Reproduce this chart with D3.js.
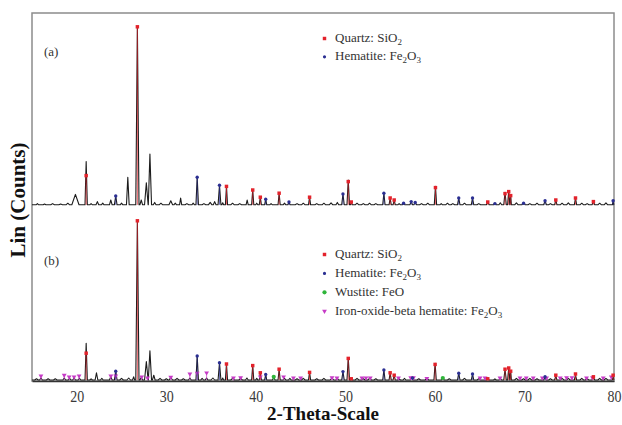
<!DOCTYPE html>
<html>
<head>
<meta charset="utf-8">
<script src="https://cdn.jsdelivr.net/npm/d3@7/dist/d3.min.js"></script>
<style>
  body { margin: 0; background: #fff; }
  text { font-family: "Liberation Serif", "Times New Roman", serif; }
</style>
</head>
<body>
<div id="canvas"></div>
<script>
// peaks: [2-theta, counts above baseline, half width]
const peaksA = [
  [15.6, 3, 0.15], [16.4, 2, 0.15], [17.3, 3, 0.2], [18.2, 2, 0.2], [19.0, 4, 0.2],
  [19.85, 26, 0.4], [21.05, 108, 0.13], [21.6, 3, 0.15], [22.3, 8, 0.15], [22.9, 4, 0.15],
  [23.8, 12, 0.15], [24.35, 22, 0.15], [25.0, 4, 0.15], [25.7, 69, 0.15], [26.77, 445, 0.18],
  [27.2, 12, 0.15], [27.77, 55, 0.2], [28.17, 127, 0.18], [28.7, 6, 0.15], [29.4, 4, 0.2],
  [30.5, 10, 0.2], [31.0, 4, 0.15], [31.6, 17, 0.12], [32.3, 3, 0.2], [33.0, 4, 0.15],
  [33.45, 69, 0.14], [34.2, 3, 0.2], [34.9, 6, 0.2], [35.4, 8, 0.15], [35.94, 49, 0.16],
  [36.3, 5, 0.1], [36.72, 46, 0.12], [37.4, 4, 0.2], [38.2, 3, 0.2], [39.03, 12, 0.12],
  [39.65, 37, 0.12], [40.1, 4, 0.12], [40.5, 19, 0.12], [41.1, 14, 0.12], [41.7, 3, 0.15],
  [42.6, 29, 0.12], [43.2, 4, 0.15], [43.7, 7, 0.12], [44.6, 3, 0.2], [45.3, 4, 0.2],
  [46.0, 19, 0.12], [46.8, 3, 0.2], [47.6, 4, 0.2], [48.4, 5, 0.2], [49.1, 6, 0.15],
  [49.73, 27, 0.14], [50.32, 62, 0.14], [50.66, 7, 0.1], [51.3, 4, 0.2], [52.0, 3, 0.2],
  [52.7, 4, 0.2], [53.4, 3, 0.2], [54.3, 29, 0.13], [55.0, 17, 0.12], [55.45, 12, 0.12],
  [56.0, 3, 0.15], [56.5, 4, 0.15], [57.35, 8, 0.15], [57.8, 6, 0.15], [58.5, 3, 0.2],
  [59.2, 4, 0.2], [60.06, 46, 0.13], [60.7, 3, 0.15], [61.4, 4, 0.2], [62.0, 3, 0.2],
  [62.66, 17, 0.14], [63.3, 4, 0.2], [64.2, 17, 0.14], [64.9, 3, 0.2], [65.9, 7, 0.15],
  [66.7, 4, 0.15], [67.3, 5, 0.15], [67.83, 31, 0.14], [68.24, 35, 0.12], [68.46, 23, 0.08],
  [69.1, 5, 0.2], [69.9, 4, 0.2], [70.6, 3, 0.2], [71.4, 4, 0.2], [72.3, 10, 0.15],
  [72.9, 3, 0.2], [73.5, 12, 0.13], [74.2, 4, 0.2], [74.9, 5, 0.2], [75.7, 17, 0.13],
  [76.4, 4, 0.2], [77.0, 3, 0.2], [77.7, 8, 0.15], [78.4, 4, 0.2], [79.1, 5, 0.2], [79.9, 10, 0.08]
];

const peaksB = [
  [15.5, 3, 0.2], [16.0, 5, 0.15], [16.8, 3, 0.2], [17.6, 3, 0.2], [18.6, 5, 0.15],
  [19.2, 4, 0.15], [19.7, 5, 0.15], [20.3, 4, 0.15], [21.05, 92, 0.13], [21.6, 3, 0.15],
  [22.2, 18, 0.15], [22.8, 4, 0.15], [23.8, 8, 0.15], [24.35, 22, 0.15], [25.0, 4, 0.2],
  [25.8, 5, 0.2], [26.35, 8, 0.12], [26.77, 398, 0.18], [27.2, 6, 0.15], [27.77, 46, 0.2],
  [28.17, 73, 0.18], [28.6, 12, 0.15], [29.3, 4, 0.2], [30.0, 3, 0.2], [30.5, 6, 0.2],
  [31.2, 4, 0.2], [31.9, 3, 0.2], [32.63, 5, 0.15], [33.45, 60, 0.14], [34.0, 4, 0.15],
  [34.5, 5, 0.15], [35.2, 5, 0.2], [35.94, 43, 0.16], [36.3, 5, 0.1], [36.72, 40, 0.12],
  [37.4, 4, 0.2], [38.3, 4, 0.2], [39.0, 5, 0.15], [39.65, 36, 0.12], [40.1, 4, 0.12],
  [40.5, 18, 0.12], [41.1, 14, 0.12], [42.0, 6, 0.15], [42.6, 27, 0.12], [43.2, 4, 0.15],
  [43.8, 4, 0.15], [44.6, 3, 0.2], [45.3, 4, 0.2], [46.0, 19, 0.12], [46.8, 3, 0.2],
  [47.6, 4, 0.2], [48.5, 5, 0.2], [49.1, 4, 0.15], [49.73, 21, 0.14], [50.32, 56, 0.14],
  [50.66, 5, 0.1], [51.3, 4, 0.2], [52.0, 3, 0.2], [52.7, 4, 0.2], [53.4, 3, 0.2],
  [54.3, 25, 0.13], [55.0, 18, 0.12], [55.45, 12, 0.12], [56.0, 3, 0.15], [56.6, 4, 0.15],
  [57.4, 6, 0.15], [58.2, 3, 0.2], [59.1, 4, 0.2], [60.02, 42, 0.13], [60.88, 6, 0.15],
  [61.6, 3, 0.2], [62.66, 17, 0.14], [63.3, 4, 0.2], [64.2, 15, 0.14], [64.9, 3, 0.2],
  [65.9, 5, 0.15], [66.7, 3, 0.15], [67.3, 4, 0.15], [67.83, 27, 0.14], [68.24, 30, 0.12],
  [68.46, 22, 0.08], [69.1, 4, 0.2], [69.9, 3, 0.2], [70.6, 4, 0.2], [71.4, 3, 0.2],
  [72.3, 7, 0.15], [72.9, 3, 0.2], [73.5, 10, 0.13], [74.2, 4, 0.2], [74.9, 4, 0.2],
  [75.7, 12, 0.13], [76.4, 4, 0.2], [77.0, 3, 0.2], [77.7, 7, 0.15], [78.4, 4, 0.2],
  [79.1, 4, 0.2], [79.9, 9, 0.08]
];

// phase markers: [2-theta, counts above baseline]
const quartzA = [[21.05, 73], [26.77, 445], [36.72, 46], [39.65, 37], [40.5, 19], [42.6, 29],
  [46.0, 19], [50.32, 58], [50.66, 7], [55.0, 17], [55.45, 12], [60.06, 43], [65.9, 7],
  [67.83, 28], [68.24, 33], [68.46, 23], [73.5, 12], [75.7, 17], [77.7, 8]];
const hematiteA = [[24.35, 22], [33.45, 69], [35.94, 49], [41.1, 14], [43.7, 7], [49.73, 27],
  [54.3, 29], [56.5, 4], [57.35, 8], [57.8, 6], [62.66, 17], [64.2, 17], [66.7, 3], [69.9, 4],
  [72.3, 10], [79.9, 10]];

const quartzB = [[21.05, 67], [26.77, 398], [36.72, 40], [39.65, 36], [40.5, 18], [42.6, 27],
  [46.0, 19], [50.32, 54], [50.66, 3], [55.0, 18], [55.45, 12], [60.02, 39], [65.9, 3],
  [67.83, 27], [68.24, 30], [68.46, 22], [73.5, 12], [75.7, 15], [77.7, 8], [79.9, 12]];
const hematiteB = [[24.35, 22], [33.45, 60], [35.94, 43], [41.1, 14], [49.73, 21], [54.3, 25],
  [57.5, 5], [62.66, 17], [64.2, 15], [72.3, 8]];
const wustiteB = [[42.0, 8], [60.88, 5]];
const betaB = [[16.0, 10], [18.6, 12], [19.15, 8], [19.7, 8], [20.26, 10], [23.8, 10], [24.35, 10],
  [27.25, 8], [27.9, 5], [30.5, 7], [32.63, 15], [33.45, 17], [34.5, 18], [37.5, 5], [38.3, 6],
  [40.5, 8], [43.1, 8], [44.2, 5], [45.0, 5], [48.5, 6], [49.06, 5], [51.85, 5], [52.3, 5],
  [52.78, 5], [55.93, 5], [57.3, 6], [57.6, 6], [59.1, 4], [65.04, 5], [65.6, 5], [67.27, 5],
  [69.5, 5], [70.2, 5], [70.98, 5], [72.0, 5], [72.47, 5], [74.0, 5], [74.7, 6], [75.3, 6],
  [76.93, 5], [77.6, 6], [78.8, 5], [79.7, 8]];

const xTicks = [20, 30, 40, 50, 60, 70, 80];
const offsetA = 438;
const offsetB = 0;

const width = 622;
const height = 425;
const margin = {top: 13, left: 32, bottom: 44, right: 8};

const colors = {quartz: "#e3222b", hematite: "#2b2f92", wustite: "#2fb53a", beta: "#c63bc6"};

const svg = d3.select("#canvas").append("svg")
  .attr("width", width)
  .attr("height", height);

const x = d3.scaleLinear().domain([15, 80]).range([margin.left, width - margin.right]);
const y = d3.scaleLinear().domain([0, 920]).range([380, 12]);

// frame
svg.append("rect")
  .attr("x", margin.left)
  .attr("y", margin.top)
  .attr("width", width - margin.right - margin.left)
  .attr("height", 381 - margin.top)
  .attr("fill", "none")
  .attr("stroke", "#8c8c8c")
  .attr("stroke-width", 1.5);

function curvePoints(peaks) {
  const pts = [[15, 0]];
  peaks.forEach(p => {
    pts.push([p[0] - p[2], 0], [p[0], p[1]], [p[0] + p[2], 0]);
  });
  pts.push([80, 0]);
  return pts;
}

function drawPattern(peaks, offset, phases) {
  const g = svg.append("g");
  const line = d3.line().x(d => x(d[0])).y(d => y(d[1] + offset));
  g.append("path")
    .datum(curvePoints(peaks))
    .attr("d", line)
    .attr("fill", "none")
    .attr("stroke", "#1c1c1c")
    .attr("stroke-width", 1.1)
    .attr("stroke-linejoin", "round");

  phases.forEach(ph => {
    g.selectAll(null).data(ph.data).enter().append("line")
      .attr("x1", d => x(d[0])).attr("x2", d => x(d[0]))
      .attr("y1", y(offset)).attr("y2", d => y(d[1] + offset))
      .attr("stroke", ph.color)
      .attr("stroke-width", 0.8)
      .attr("opacity", 0.85);
    g.selectAll(null).data(ph.data).enter().append("path")
      .attr("transform", d => `translate(${x(d[0])},${y(d[1] + offset)})` + (ph.shape === "tri" ? " rotate(180)" : ""))
      .attr("d", d3.symbol().type(ph.shape === "sq" ? d3.symbolSquare : ph.shape === "tri" ? d3.symbolTriangle : d3.symbolCircle).size(ph.size))
      .attr("fill", ph.color);
  });
}

drawPattern(peaksA, offsetA, [
  {data: quartzA, color: colors.quartz, shape: "sq", size: 12},
  {data: hematiteA, color: colors.hematite, shape: "dot", size: 9}
]);
drawPattern(peaksB, offsetB, [
  {data: betaB, color: colors.beta, shape: "tri", size: 10},
  {data: quartzB, color: colors.quartz, shape: "sq", size: 12},
  {data: hematiteB, color: colors.hematite, shape: "dot", size: 9},
  {data: wustiteB, color: colors.wustite, shape: "dot", size: 14}
]);

// x axis
const xAxis = svg.append("g")
  .attr("transform", "translate(0,381)")
  .call(d3.axisBottom(x).tickValues(xTicks).tickSize(0).tickFormat(d3.format("d")));
xAxis.select(".domain").attr("stroke", "#333").attr("stroke-width", 1.3);
xAxis.selectAll("text")
  .attr("y", 0).attr("dy", null)
  .attr("transform", "translate(0,20.5) scale(1,1.2)")
  .attr("font-family", "Liberation Serif")
  .attr("font-size", 14)
  .attr("fill", "#3a3a3a");

// axis titles
svg.append("text")
  .attr("x", 323).attr("y", 420)
  .attr("text-anchor", "middle")
  .attr("font-size", 19).attr("font-weight", "bold")
  .attr("fill", "#111")
  .text("2-Theta-Scale");

svg.append("text")
  .attr("transform", "translate(25,200) rotate(-90)")
  .attr("text-anchor", "middle")
  .attr("font-size", 21).attr("font-weight", "bold")
  .attr("fill", "#111")
  .text("Lin (Counts)");

// panel labels
svg.append("text").attr("x", 44).attr("y", 56).attr("font-size", 13).attr("fill", "#333").text("(a)");
svg.append("text").attr("x", 44).attr("y", 265).attr("font-size", 13).attr("fill", "#333").text("(b)");

// legends
function legendText(sel, parts) {
  parts.forEach(p => {
    const t = sel.append("tspan").text(p[0]);
    if (p[1] === "sub") t.attr("font-size", 9).attr("dy", 3);
    if (p[1] === "up") t.attr("dy", -3);
  });
}

const legendA = [
  {color: colors.quartz, shape: "sq", parts: [["Quartz: SiO"], ["2", "sub"]]},
  {color: colors.hematite, shape: "dot", parts: [["Hematite: Fe"], ["2", "sub"], ["O", "up"], ["3", "sub"]]}
];
const legendB = [
  {color: colors.quartz, shape: "sq", parts: [["Quartz: SiO"], ["2", "sub"]]},
  {color: colors.hematite, shape: "dot", parts: [["Hematite: Fe"], ["2", "sub"], ["O", "up"], ["3", "sub"]]},
  {color: colors.wustite, shape: "gdot", parts: [["Wustite: FeO"]]},
  {color: colors.beta, shape: "tri", parts: [["Iron-oxide-beta hematite: Fe"], ["2", "sub"], ["O", "up"], ["3", "sub"]]}
];

function drawLegend(items, y0, step) {
  items.forEach((it, i) => {
    const yy = y0 + i * step;
    const sym = it.shape === "sq" ? d3.symbolSquare : it.shape === "tri" ? d3.symbolTriangle : d3.symbolCircle;
    const size = it.shape === "sq" ? 12 : it.shape === "gdot" ? 14 : it.shape === "tri" ? 10 : 8;
    svg.append("path")
      .attr("transform", `translate(324.5,${yy})` + (it.shape === "tri" ? " rotate(180)" : ""))
      .attr("d", d3.symbol().type(sym).size(size))
      .attr("fill", it.color);
    const t = svg.append("text")
      .attr("x", 335).attr("y", yy + 3.5)
      .attr("font-size", 13).attr("fill", "#333");
    legendText(t, it.parts);
  });
}
drawLegend(legendA, 38.5, 18.3);
drawLegend(legendB, 254.5, 18.9);
</script>
</body>
</html>
